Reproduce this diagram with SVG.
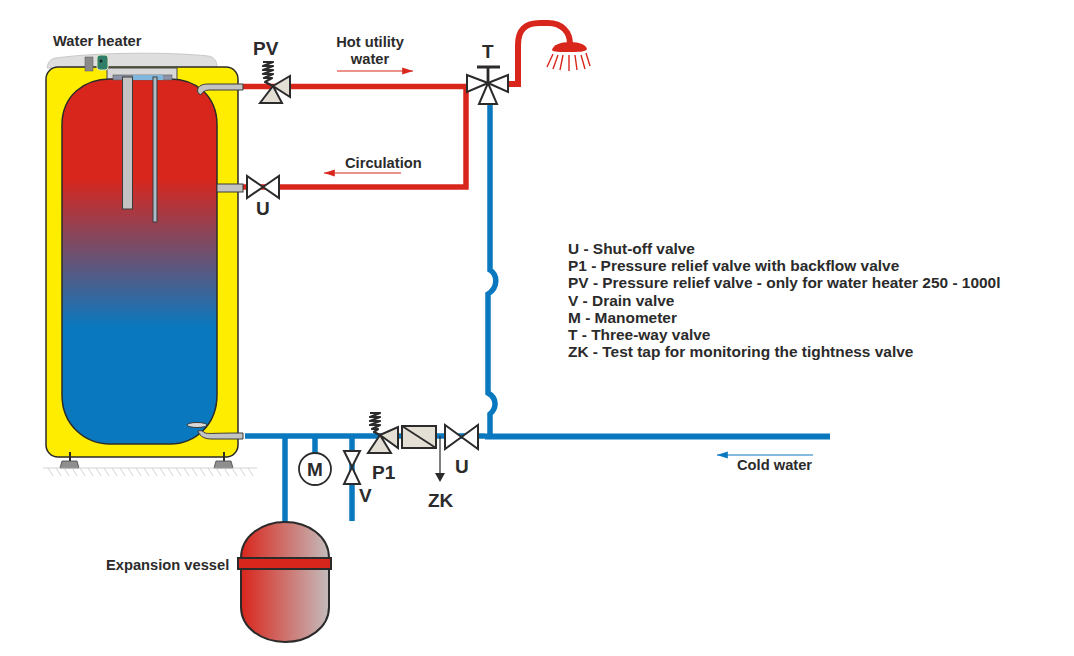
<svg xmlns="http://www.w3.org/2000/svg" width="1074" height="656" viewBox="0 0 1074 656">
<style>
text{font-family:"Liberation Sans",Arial,sans-serif;font-weight:700;fill:#2b2b2b}
.t{font-size:15.450px}
.s{font-size:14.700px}
.b{font-size:19px}
.l{font-size:19px}
.red{fill:none;stroke:#d9261c;stroke-width:5.500}
.blue{fill:none;stroke:#0a78bf;stroke-width:5.500}
.v{fill:#fff;stroke:#2b2b2b;stroke-width:2}
.g{fill:#e3dfd5;stroke:#2b2b2b;stroke-width:2}
.k{fill:none;stroke:#2b2b2b;stroke-width:1.800}
.sp{fill:none;stroke:#2b2b2b;stroke-width:2.200;stroke-linejoin:round}
.pg{fill:#c3c3c3;stroke:#3a3a3a;stroke-width:1}
.h{stroke:#c9c9c9;stroke-width:.8}
</style>
<defs>
<linearGradient id="tank" x1="0" y1="0" x2="0" y2="1"><stop offset="0.27" stop-color="#d9261c"/><stop offset="0.68" stop-color="#0a78bf"/></linearGradient>
<linearGradient id="ves" x1="0" y1="0" x2="1" y2="0"><stop offset="0" stop-color="#d9261c"/><stop offset="1" stop-color="#c3bcbc"/></linearGradient>
<marker id="ra" markerWidth="9" markerHeight="6" refX="9" refY="3" orient="auto"><path d="M0 0L9 3L0 6z" fill="#d9261c"/></marker>
<marker id="ba" markerWidth="9" markerHeight="6" refX="9" refY="3" orient="auto"><path d="M0 0L9 3L0 6z" fill="#0a78bf"/></marker>
</defs>
<g id="connectors">
<path class="red" d="M243 86.500H466M243 187H466V84M466 86.500H470"/>
<path class="red" d="M505 84H518V45C518 30 525 23 540 23H548C562 23 570 32 570 44" style="stroke-width:6"/>
<path class="blue" d="M245 436H485"/>
<path class="blue" d="M485 436.500H830" style="stroke-width:6"/>
<path class="blue" d="M490 104V270C498 275 498 288 488 294V393C497 398 497 408 490 414V436"/>
<path class="blue" d="M285 436V522M315 436V453M352 436V521"/>
<path d="M337 71H413" fill="none" stroke="#d9261c" stroke-width="1.200" marker-end="url(#ra)"/>
<path d="M401 173H324" fill="none" stroke="#d9261c" stroke-width="1.200" marker-end="url(#ra)"/>
<path d="M813 455H717" fill="none" stroke="#0a78bf" stroke-width="1.200" marker-end="url(#ba)"/>
</g>
<g id="water-heater">
<path d="M47 68C48 62 50 59 56 58C100 52 170 52 208 56C214 57 217 60 217 68Z" fill="#dedede" stroke="#c8c8c8" stroke-width="1"/>
<rect x="46" y="67" width="192" height="390" rx="12" fill="#ffed00" stroke="#2b2b2b" stroke-width="1.500"/>
<rect x="107" y="68" width="70" height="12" fill="#d8d8d8" stroke="#444" stroke-width="1"/>
<path d="M62 125C62 95 85 79 110 79H170C195 79 217 95 217 125V395C217 425 195 444 170 444H110C85 444 62 425 62 395Z" fill="url(#tank)" stroke="#2b2b2b" stroke-width="1.500"/>
<rect x="113" y="75" width="59" height="5" fill="#8d93a8" stroke="#555" stroke-width=".6"/>
<rect x="133" y="75" width="30" height="5" fill="#7fb7dc"/>
<rect x="85" y="57" width="8" height="14" fill="#8a8a8a" stroke="#555" stroke-width=".5"/>
<rect x="97" y="55" width="11" height="15" rx="3" fill="#2f7f68" stroke="#dfe6c8" stroke-width="1"/>
<circle cx="101" cy="61" r="1.500" fill="#222"/>
<rect x="122.500" y="77" width="10" height="132" fill="#c3c3c3" stroke="#3a3a3a" stroke-width="1"/>
<rect x="153" y="77" width="4" height="145" fill="#a9bcc8" stroke="#3a3a3a" stroke-width="1"/>
<path class="pg" d="M198 93C196 87 201 84 208 84H243V90H210C205 90 202 92 201 95Z"/>
<rect class="pg" x="217" y="184" width="26" height="8"/>
<path class="pg" d="M198 431C201 430 203 431 205 433C209 434 215 433 243 433V439H212C205 439 200 437 198 431Z"/>
<ellipse cx="197" cy="425" rx="10" ry="2.500" fill="#d8d8d8" stroke="#3a3a3a" stroke-width="1"/>
<path d="M70 452V461M224 452V461" stroke="#2b2b2b" stroke-width="2"/>
<path d="M62 461H77L79 468H60Z M216 461H231L233 468H214Z" fill="#8f8f8f" stroke="#444" stroke-width=".8"/>
<path class="h" d="M43 468H257M48 468l5 8M56 468l5 8M64 468l5 8M72 468l5 8M80 468l5 8M88 468l5 8M96 468l5 8M104 468l5 8M112 468l5 8M120 468l5 8M128 468l5 8M136 468l5 8M144 468l5 8M152 468l5 8M160 468l5 8M168 468l5 8M176 468l5 8M184 468l5 8M192 468l5 8M200 468l5 8M208 468l5 8M216 468l5 8M224 468l5 8M232 468l5 8M240 468l5 8M248 468l5 8"/>
<text class="s" x="53" y="46">Water heater</text>
</g>
<g id="valve-pv">
<path class="sp" d="M263 62H273L263 66H273L263 70H273L263 74H273L264 78H272L265 82L273 86"/>
<path class="g" d="M273 86L290 76V97ZM273 86L260 103H282Z"/>
<text class="b" x="253" y="55">PV</text>
</g>
<g id="valve-u-top">
<path class="v" d="M263 187L247 176V198ZM263 187L279 176V198Z"/>
<text class="l" x="256" y="215">U</text>
</g>
<g id="valve-t">
<path d="M488 83V68M477 67H500" fill="none" stroke="#2b2b2b" stroke-width="2.800"/>
<path class="v" d="M488 83L467 75V92ZM488 83L508 75V92ZM488 83L479 104H497Z"/>
<text class="b" x="482" y="58">T</text>
</g>
<g id="shower">
<path d="M552 50C553 45 560 42 570 42C580 42 586 45 587 49C586 52 578 52 569 52C560 52 553 52 552 50Z" fill="#d9261c"/>
<path d="M553 54L547 67M558 55L553 69M563 55L560 70M569 55V71M575 55L577 70M581 55L585 69M586 53L590 66" fill="none" stroke="#d9261c" stroke-width="1.400"/>
</g>
<g id="valve-p1">
<path class="sp" d="M370 413H380L370 417H380L370 421H380L370 425H380L372 429H378L374 432L380 435"/>
<path class="g" d="M380 435L398 427V448ZM380 435L368 453H391Z"/>
<text class="l" x="372" y="479">P1</text>
</g>
<g id="check-valve">
<rect class="g" x="402" y="426" width="34" height="22"/>
<path class="k" d="M402 426L436 448"/>
</g>
<g id="zk">
<path d="M440 436V473" stroke="#2b2b2b" stroke-width="1.200"/>
<path d="M435 473H445L440 482Z" fill="#2b2b2b"/>
<text class="l" x="428" y="507">ZK</text>
</g>
<g id="valve-u-bottom">
<path class="v" d="M461.500 437L445 425V449ZM461.500 437L478 425V449Z"/>
<text class="l" x="455" y="473">U</text>
</g>
<g id="valve-v">
<path class="v" d="M352 467L344 451H360ZM352 467L344 484H360Z"/>
<text class="l" x="359" y="502">V</text>
</g>
<g id="manometer">
<circle cx="315" cy="469" r="16" fill="#fff" stroke="#2b2b2b" stroke-width="1.800"/>
<text class="l" x="315" y="476" text-anchor="middle">M</text>
</g>
<g id="expansion-vessel">
<path d="M241 558C241 536 262 522 285 522C308 522 329 536 329 558V607C329 628 308 642 285 642C262 642 241 628 241 607Z" fill="url(#ves)" stroke="#2b2b2b" stroke-width="2"/>
<rect x="238" y="558" width="93" height="11" fill="#d9261c" stroke="#2b2b2b" stroke-width="2"/>
<text class="s" x="106" y="570">Expansion vessel</text>
</g>
<g id="labels">
<text class="s" x="370" y="47" text-anchor="middle">Hot utility</text>
<text class="s" x="370" y="64" text-anchor="middle">water</text>
<text class="s" x="345" y="168">Circulation</text>
<text class="s" x="737" y="470">Cold water</text>
<text class="t" x="568" y="254">U - Shut-off valve</text>
<text class="t" x="568" y="271">P1 - Pressure relief valve with backflow valve</text>
<text class="t" x="568" y="288">PV - Pressure relief valve - only for water heater 250 - 1000l</text>
<text class="t" x="568" y="306">V - Drain valve</text>
<text class="t" x="568" y="323">M - Manometer</text>
<text class="t" x="568" y="340">T - Three-way valve</text>
<text class="t" x="568" y="357">ZK - Test tap for monitoring the tightness valve</text>
</g>
</svg>
